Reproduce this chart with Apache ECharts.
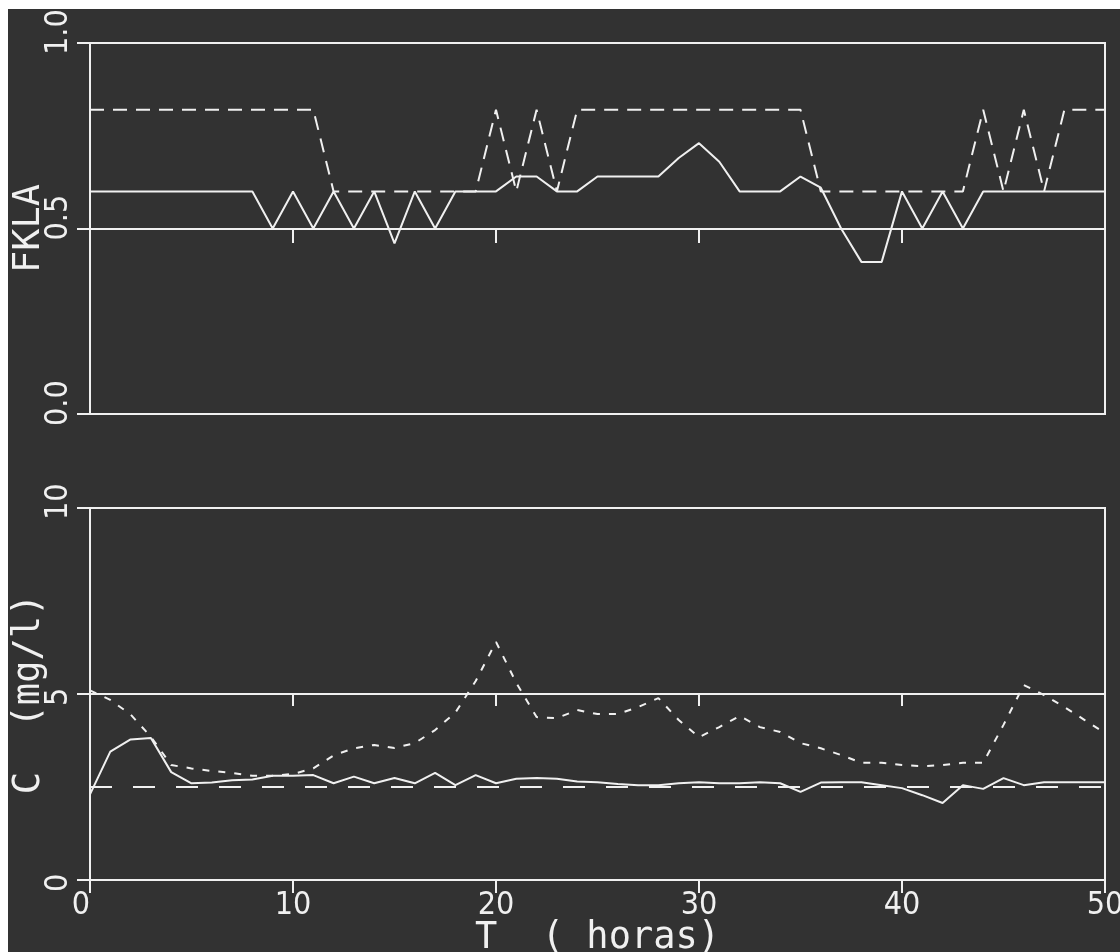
<!DOCTYPE html>
<html>
<head>
<meta charset="utf-8">
<script src="https://cdn.jsdelivr.net/npm/echarts@6.0.0/dist/echarts.min.js"></script>
<style>
  html, body { margin: 0; background: #ffffff; }
  #main { position: absolute; left: 8px; top: 9px; width: 1112px; height: 943px; }
</style>
</head>
<body>
<div id="main"></div>
<script>
// hours 0..50
var hours = [0,1,2,3,4,5,6,7,8,9,10,11,12,13,14,15,16,17,18,19,20,21,22,23,24,25,
  26,27,28,29,30,31,32,33,34,35,36,37,38,39,40,41,42,43,44,45,46,47,48,49,50];

// FKLA (top panel)
var fklaSolid = [0.6,0.6,0.6,0.6,0.6,0.6,0.6,0.6,0.6,0.5,
  0.6,0.5,0.6,0.5,0.6,0.46,0.6,0.5,0.6,0.6,
  0.6,0.64,0.64,0.6,0.6,0.64,0.64,0.64,0.64,0.69,
  0.73,0.68,0.6,0.6,0.6,0.64,0.61,0.5,0.41,0.41,
  0.6,0.5,0.6,0.5,0.6,0.6,0.6,0.6,0.6,0.6,
  0.6];
var fklaDashed = [0.82,0.82,0.82,0.82,0.82,0.82,0.82,0.82,0.82,0.82,
  0.82,0.82,0.6,0.6,0.6,0.6,0.6,0.6,0.6,0.6,
  0.82,0.6,0.82,0.6,0.82,0.82,0.82,0.82,0.82,0.82,
  0.82,0.82,0.82,0.82,0.82,0.82,0.6,0.6,0.6,0.6,
  0.6,0.6,0.6,0.6,0.82,0.6,0.82,0.6,0.82,0.82,
  0.82];

// C mg/l (bottom panel)
var cSolid = [2.3,3.45,3.78,3.82,2.9,2.6,2.62,2.68,2.7,2.8,
  2.8,2.82,2.6,2.78,2.6,2.74,2.6,2.88,2.55,2.82,
  2.6,2.72,2.74,2.72,2.65,2.63,2.58,2.55,2.55,2.6,
  2.63,2.6,2.6,2.63,2.6,2.37,2.62,2.63,2.63,2.55,
  2.47,2.28,2.07,2.55,2.45,2.74,2.55,2.63,2.63,2.63,
  2.63];
var cDashed = [5.1,4.84,4.45,3.85,3.09,3.0,2.93,2.88,2.8,2.8,
  2.85,3.0,3.35,3.54,3.63,3.55,3.68,4.03,4.5,5.35,
  6.4,5.3,4.38,4.35,4.57,4.46,4.46,4.65,4.89,4.3,
  3.84,4.11,4.41,4.11,3.98,3.68,3.54,3.36,3.15,3.15,
  3.09,3.06,3.09,3.15,3.15,4.17,5.24,4.97,4.65,4.3,
  3.95];
var cSetpoint = [[0, 2.5], [50, 2.5]];

var fgColor = '#f0f0f0';
var tickFont = '"Liberation Sans Narrow", "DejaVu Sans Condensed", sans-serif';
var titleFont = '"DejaVu Sans Mono", monospace';

function pairs(ys) {
  return hours.map(function (h, i) { return [h, ys[i]]; });
}

var myChart = echarts.init(document.getElementById('main'));
var option = {
  backgroundColor: '#323232',
  animation: false,
  grid: [
    {left: 82, right: 15, top: 34, bottom: 538, outerBoundsMode: 'none', show: true, borderColor: fgColor, borderWidth: 2},
    {left: 82, right: 15, top: 34, bottom: 723, outerBoundsMode: 'none'},
    {left: 82, right: 15, top: 499, bottom: 72, outerBoundsMode: 'none', show: true, borderColor: fgColor, borderWidth: 2},
    {left: 82, right: 15, top: 499, bottom: 259, outerBoundsMode: 'none'}
  ],
  xAxis: [
    {gridIndex: 0, type: 'value', min: 0, max: 50, interval: 10,
      axisLine: {lineStyle: {color: fgColor, width: 2}},
      axisTick: {show: false}, axisLabel: {show: false}, splitLine: {show: false}},
    {gridIndex: 1, type: 'value', min: 0, max: 50, interval: 10,
      axisLine: {show: false},
      axisTick: {show: true, length: 14, lineStyle: {color: fgColor, width: 2}},
      axisLabel: {show: false}, splitLine: {show: false}},
    {gridIndex: 2, type: 'value', min: 0, max: 50, interval: 10,
      name: 'T  ( horas)', nameLocation: 'middle', nameGap: 40, nameMoveOverlap: false,
      nameTextStyle: {color: fgColor, fontFamily: titleFont, fontSize: 37},
      axisLine: {lineStyle: {color: fgColor, width: 2}},
      axisTick: {show: true, length: 13, lineStyle: {color: fgColor, width: 2}},
      axisLabel: {color: fgColor, fontFamily: tickFont, fontSize: 32, margin: 10,
        alignMinLabel: 'right'},
      splitLine: {show: false}},
    {gridIndex: 3, type: 'value', min: 0, max: 50, interval: 10,
      axisLine: {show: false},
      axisTick: {show: true, length: 13, lineStyle: {color: fgColor, width: 2}},
      axisLabel: {show: false}, splitLine: {show: false}}
  ],
  yAxis: [
    {gridIndex: 0, type: 'value', min: 0, max: 1, interval: 0.5,
      name: 'FKLA', nameLocation: 'middle', nameGap: 42, nameRotate: 90, nameMoveOverlap: false,
      nameTextStyle: {color: fgColor, fontFamily: titleFont, fontSize: 37},
      axisLine: {show: true, lineStyle: {color: fgColor, width: 2}},
      axisTick: {show: true, length: 13, lineStyle: {color: fgColor, width: 2}},
      axisLabel: {color: fgColor, fontFamily: tickFont, fontSize: 32, margin: 15,
        rotate: 90, align: 'left', padding: [0, 0, 0, -12],
        formatter: function (v) { return v.toFixed(1); }},
      splitLine: {show: true, lineStyle: {color: fgColor, width: 2}}},
    {gridIndex: 1, type: 'value', min: 0, max: 1, show: false},
    {gridIndex: 2, type: 'value', min: 0, max: 10, interval: 5,
      name: 'C  (mg/l)', nameLocation: 'middle', nameGap: 42, nameRotate: 90, nameMoveOverlap: false,
      nameTextStyle: {color: fgColor, fontFamily: titleFont, fontSize: 37},
      axisLine: {show: true, lineStyle: {color: fgColor, width: 2}},
      axisTick: {show: true, length: 13, lineStyle: {color: fgColor, width: 2}},
      axisLabel: {color: fgColor, fontFamily: tickFont, fontSize: 32, margin: 15,
        rotate: 90, align: 'left', padding: [0, 0, 0, -12]},
      splitLine: {show: true, lineStyle: {color: fgColor, width: 2}}},
    {gridIndex: 3, type: 'value', min: 0, max: 1, show: false}
  ],
  series: [
    {type: 'line', xAxisIndex: 0, yAxisIndex: 0, data: pairs(fklaSolid), symbol: 'none',
      lineStyle: {color: fgColor, width: 2}},
    {type: 'line', xAxisIndex: 0, yAxisIndex: 0, data: pairs(fklaDashed), symbol: 'none',
      lineStyle: {color: fgColor, width: 2, type: [14, 9]}},
    {type: 'line', xAxisIndex: 2, yAxisIndex: 2, data: pairs(cSolid), symbol: 'none',
      lineStyle: {color: fgColor, width: 2}},
    {type: 'line', xAxisIndex: 2, yAxisIndex: 2, data: pairs(cDashed), symbol: 'none',
      lineStyle: {color: fgColor, width: 2, type: [7, 9]}},
    {type: 'line', xAxisIndex: 2, yAxisIndex: 2, data: cSetpoint, symbol: 'none',
      lineStyle: {color: fgColor, width: 2, type: [22, 21]}}
  ]
};
myChart.setOption(option);
</script>
</body>
</html>
